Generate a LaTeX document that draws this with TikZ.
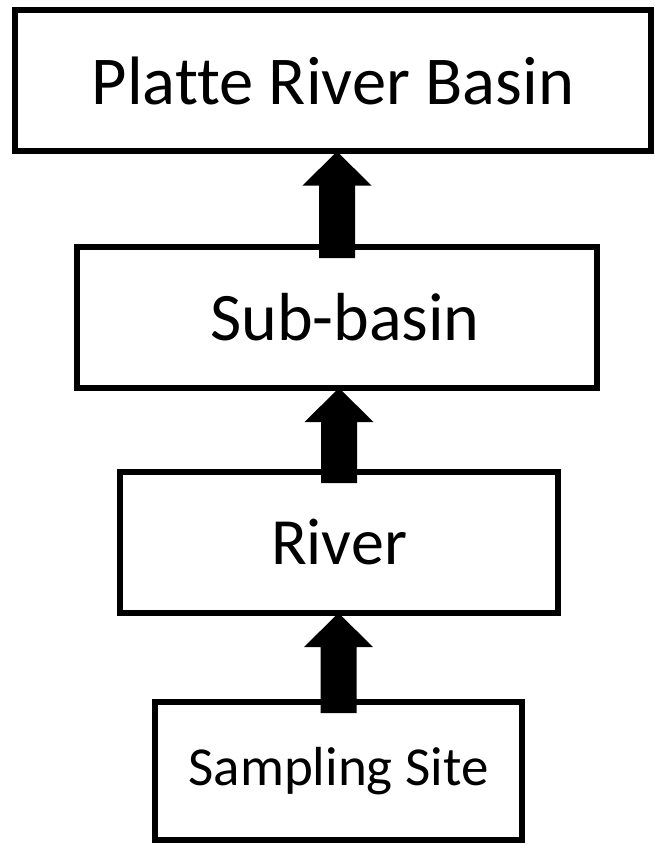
\documentclass[tikz,border=0pt]{standalone}
\usepackage{fontspec}
\setmainfont[Ligatures=CommonOff]{Carlito}
\usetikzlibrary{calc}

\tikzset{
	level/.style={draw, line width=6pt, fill=white, outer sep=0pt, inner sep=0pt, minimum height=141pt},
	bigarrow/.style={fill=black}
}

%thick upward arrow from the top of #1 to the bottom of #2
\newcommand{\levelarrow}[2]{%
	\coordinate (tip) at (#1.north |- #2.south);
	\coordinate (foot) at (#1.north);
	\fill [bigarrow] (tip) -- ($(tip)+(\headW,\headL)$) -- ($(tip)+(\shaftW,\headL)$) -- ($(foot)+(\shaftW,\sink)$)
		-- ($(foot)+(-\shaftW,\sink)$) -- ($(tip)+(-\shaftW,\headL)$) -- ($(tip)+(-\headW,\headL)$) -- cycle;
}

\begin{document}
\begin{tikzpicture}[x=1pt, y=-1pt]
		%page frame
		\useasboundingbox (0,0) rectangle (654,845);
		
		%arrow sizes
		\def\headW{34.5}
		\def\headL{34}
		\def\shaftW{18}
		\def\sink{11}
		
		%levels (text a little off centre, as in the original)
		\node [level, minimum width=636pt, font=\fontsize{68.5}{80}\selectfont] (basin) at (333,81) {Platte River Basin\hspace{16pt}};
		\node [level, minimum width=520pt, font=\fontsize{68}{80}\selectfont] (subbasin) at (337,317.5) {\hspace{16pt}Sub-basin};
		\node [level, minimum width=438pt, font=\fontsize{66}{78}\selectfont] (river) at (339,542.5) {River};
		\node [level, minimum width=367pt, minimum height=138pt, font=\fontsize{55}{66}\selectfont] (site) at (338.5,771) {Sampling Site\hspace{14pt}};
		
		%arrows
		\levelarrow{subbasin}{basin}
		\levelarrow{river}{subbasin}
		\levelarrow{site}{river}
	\end{tikzpicture}
\end{document}
